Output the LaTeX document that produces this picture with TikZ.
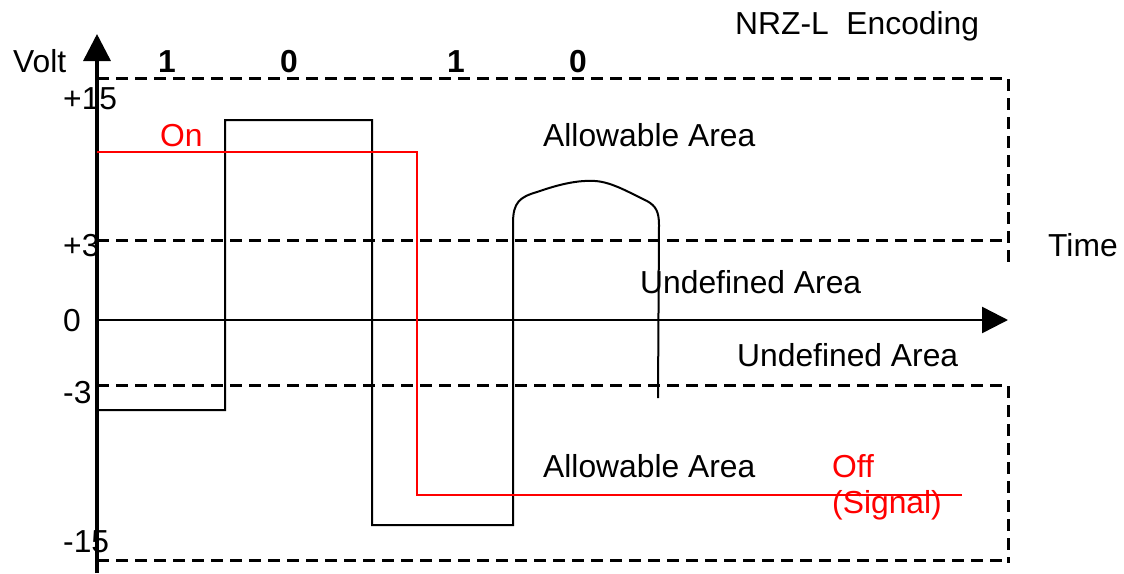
\documentclass[tikz,border=0pt]{standalone}
\usepackage{fontspec}
\setmainfont{Liberation Sans}
\usetikzlibrary{arrows.meta}
\tikzset{>={Triangle[width=27pt,length=27pt]}}
\newcommand{\lbl}{\fontsize{31.8}{38}\selectfont}

\begin{document}
\begin{tikzpicture}[
    x = 1pt, y = -1pt,
    txt/.style = {anchor=base west, inner sep=0pt, font=\lbl},
    bit/.style = {anchor=base, inner sep=0pt, font=\lbl\bfseries},
    level/.style = {line width=3pt, dash pattern=on 12pt off 7pt},
    sig/.style = {line width=2pt, line join=miter},
    onoff/.style = {sig, red}
  ]
  \useasboundingbox (0,0) rectangle (1124,573);

  % allowed and undefined voltage bands
  \draw[level] (97,78) -- (1008,78) -- (1008,265);
  \draw[level] (97,240) -- (1008,240);
  \draw[level] (97,385) -- (1008,385) -- (1008,563);
  \draw[level] (97,560) -- (1008,560);

  % axes
  \draw[line width=3.5pt, ->] (97,573) -- (97,34);
  \draw[line width=2.5pt, {Triangle[width=26pt,length=26pt]}-] (1008,320) -- (97,320);

  % line signal
  \draw[sig] (97,410) -- (225,410) -- (225,120) -- (372,120) -- (372,525)
    -- (513,525) -- (513,223)
    .. controls (513,202) and (520,197) .. (537,192)
    .. controls (560,184) and (578,180) .. (595,181)
    .. controls (612,182) and (630,193) .. (647,201)
    .. controls (656,206) and (659,212) .. (659,225) -- (658,398);
  \draw[onoff] (97,152) -- (417,152) -- (417,495) -- (962,495);

  \node[txt] (volt) at (13,72) {Volt};
  \foreach \v/\y [count=\k] in {+15/109, +3/256, 0/331, -3/403, -15/552}
    \node[txt] (tick\k) at (63,\y) {\v};
  \foreach \b/\x [count=\k] in {1/167, 0/289, 1/456, 0/578}
    \node[bit] (bit\k) at (\x,72) {\b};

  \node[txt] (title) at (735,34) {NRZ-L\ \ Encoding};
  \node[txt] (time) at (1048,256) {Time};
  \node[txt] (allowhi) at (543,146) {Allowable Area};
  \node[txt] (allowlo) at (543,477) {Allowable Area};
  \node[txt] (undefhi) at (640,293) {Undefined Area};
  \node[txt] (undeflo) at (737,366) {Undefined Area};
  \node[txt, red] (on) at (160,146) {On};
  \node[txt, red] (off) at (832,477) {Off};
  \node[txt, red] (signal) at (832,513) {(Signal)};
\end{tikzpicture}
\end{document}
